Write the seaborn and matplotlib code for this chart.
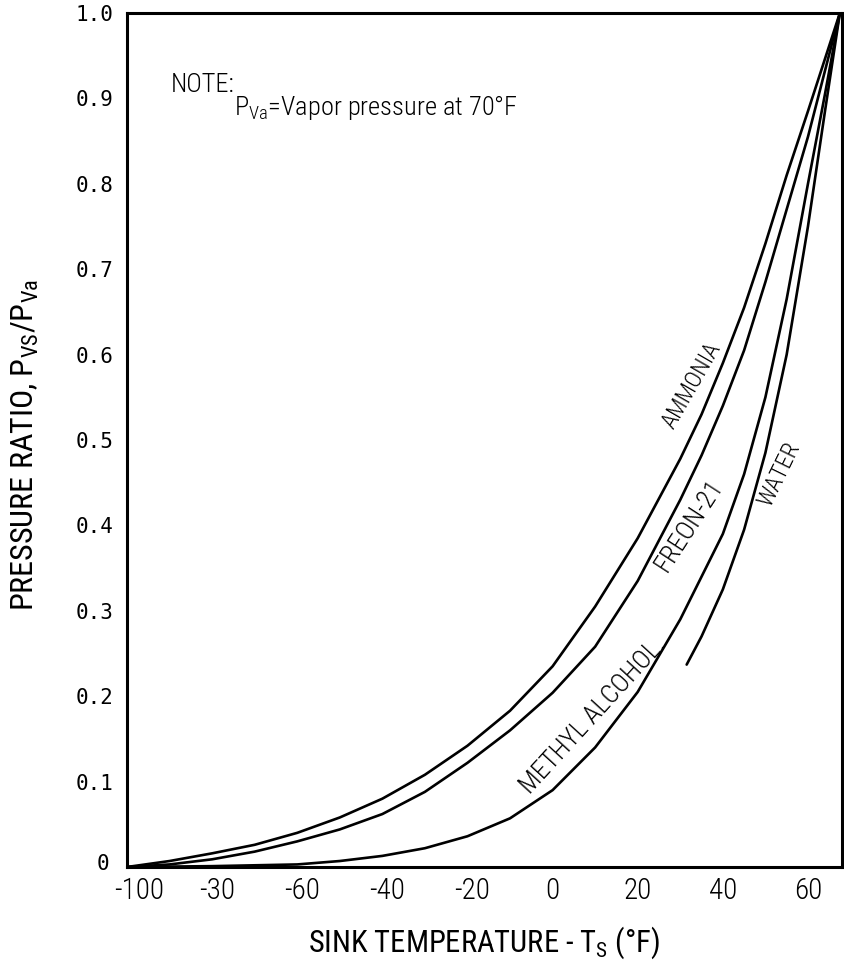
import matplotlib
matplotlib.use("Agg")
import matplotlib.pyplot as plt
import matplotlib.transforms as mtrans
import seaborn as sns
import pandas as pd
from matplotlib import font_manager as fm

sns.set_style("white")

names = {f.name for f in fm.fontManager.ttflist}
COND = 'DejaVu Sans'
for cand in ['Roboto Condensed', 'Liberation Sans Narrow', 'Open Sans Condensed', 'Noto Sans Display']:
    if cand in names:
        COND = cand
        break
plt.rcParams['font.family'] = [COND, 'DejaVu Sans']
plt.rcParams['font.stretch'] = 'condensed'
plt.rcParams['font.weight'] = 'light'
plt.rcParams['mathtext.fontset'] = 'custom'
plt.rcParams['mathtext.rm'] = COND + ':light'
for k in ['text.color', 'axes.labelcolor', 'xtick.color', 'ytick.color']:
    plt.rcParams[k] = 'black'

# ---- data ----
ammonia_t = [-100, -90, -80, -70, -60, -50, -40, -30, -20, -10, 0, 10, 20, 30, 35, 40, 45, 50, 55, 60, 67.5]
ammonia_v = [0.0, 0.007, 0.016, 0.026, 0.040, 0.058, 0.080, 0.108, 0.142, 0.183, 0.235, 0.305, 0.385, 0.478, 0.530, 0.590, 0.655, 0.730, 0.810, 0.885, 1.0]

freon_t = [-100, -90, -80, -70, -60, -50, -40, -30, -20, -10, 0, 10, 20, 30, 35, 40, 45, 50, 55, 60, 67.5]
freon_v = [0.0, 0.003, 0.009, 0.018, 0.030, 0.044, 0.062, 0.088, 0.122, 0.160, 0.204, 0.258, 0.335, 0.430, 0.482, 0.540, 0.605, 0.685, 0.770, 0.855, 1.0]

methyl_t = [-100, -80, -60, -50, -40, -30, -20, -10, 0, 10, 20, 30, 40, 45, 50, 55, 60, 64, 67.5]
methyl_v = [0.0, 0.001, 0.003, 0.007, 0.013, 0.022, 0.036, 0.057, 0.090, 0.140, 0.205, 0.290, 0.390, 0.460, 0.550, 0.665, 0.800, 0.905, 1.0]

water_t = [31.5, 35, 40, 45, 50, 55, 60, 64, 67.5]
water_v = [0.237, 0.270, 0.325, 0.395, 0.485, 0.600, 0.750, 0.885, 1.0]

x_ticks = [-100, -80, -60, -40, -20, 0, 20, 40, 60]
x_ticklabels = ["-100", "-30", "-60", "-40", "-20", "0", "20", "40", "60"]
y_ticks = [0, 0.1, 0.2, 0.3, 0.4, 0.5, 0.6, 0.7, 0.8, 0.9, 1.0]
y_ticklabels = ["0", "0.1", "0.2", "0.3", "0.4", "0.5", "0.6", "0.7", "0.8", "0.9", "1.0"]

series = {
    "AMMONIA": (ammonia_t, ammonia_v),
    "FREON-21": (freon_t, freon_v),
    "METHYL ALCOHOL.": (methyl_t, methyl_v),
    "WATER": (water_t, water_v),
}
frames = []
for name, (t, v) in series.items():
    frames.append(pd.DataFrame({"T": t, "ratio": v, "fluid": name}))
df = pd.concat(frames, ignore_index=True)

W, H = 844, 964
fig = plt.figure(figsize=(W / 100, H / 100), dpi=100)
ax = fig.add_axes([127 / W, 97 / H, 715 / W, 854 / H])

sns.lineplot(data=df, x="T", y="ratio", hue="fluid", units="fluid", estimator=None,
             palette=["black"] * 4, linewidth=1.9, legend=False, sort=False, ax=ax)

ax.set_xlim(-100, 68)
ax.set_ylim(0, 1.0)

for s in ax.spines.values():
    s.set_visible(True)
    s.set_color("black")
    s.set_linewidth(2.2)

ax.set_xticks(x_ticks)
ax.set_xticklabels(x_ticklabels, fontsize=21)
ax.set_yticks(y_ticks)
ax.set_yticklabels(y_ticklabels, fontsize=15, family=['DejaVu Sans Mono'], fontweight='normal')
ax.tick_params(axis='both', direction='in', length=12, width=1.2, color='black')
ax.tick_params(axis='x', pad=7)
ax.tick_params(axis='y', pad=10)

# negative labels sit a little right of their ticks in the reference
for lab in ax.get_xticklabels():
    txt = lab.get_text()
    if txt.startswith("-"):
        dx = 12 if txt == "-100" else 5
        lab.set_transform(lab.get_transform() + mtrans.ScaledTranslation(dx / 100, 0, fig.dpi_scale_trans))
for lab in ax.get_yticklabels():
    if lab.get_text() == "0":
        lab.set_transform(lab.get_transform() + mtrans.ScaledTranslation(-4 / 100, 5 / 100, fig.dpi_scale_trans))

ax.set_xlabel(r"SINK TEMPERATURE - T$_\mathregular{S}$ (°F)", fontsize=22, labelpad=14)
ax.set_ylabel(r"PRESSURE RATIO, P$_\mathregular{VS}$/P$_\mathregular{Va}$", fontsize=23)
ax.yaxis.set_label_coords(-86 / 715, 0.494)

# curve labels
lab_kw = dict(ha='center', va='center', rotation_mode='anchor')
ax.text(32.6, 0.564, "AMMONIA", rotation=60, fontsize=17, **lab_kw)
ax.text(32.2, 0.400, "FREON-21", rotation=57, fontsize=19, **lab_kw)
ax.text(53.3, 0.460, "WATER", rotation=64, fontsize=17, **lab_kw)
ax.text(9.6, 0.177, "METHYL ALCOHOL.", rotation=47.5, fontsize=19, **lab_kw)

# note
ax.text(-89.8, 0.907, "NOTE:", fontsize=19, ha='left', va='baseline')
ax.text(-74.8, 0.881, r"P$_\mathregular{Va}$=Vapor pressure at 70°F", fontsize=19, ha='left', va='baseline')

fig.savefig("out.png", dpi=100)
